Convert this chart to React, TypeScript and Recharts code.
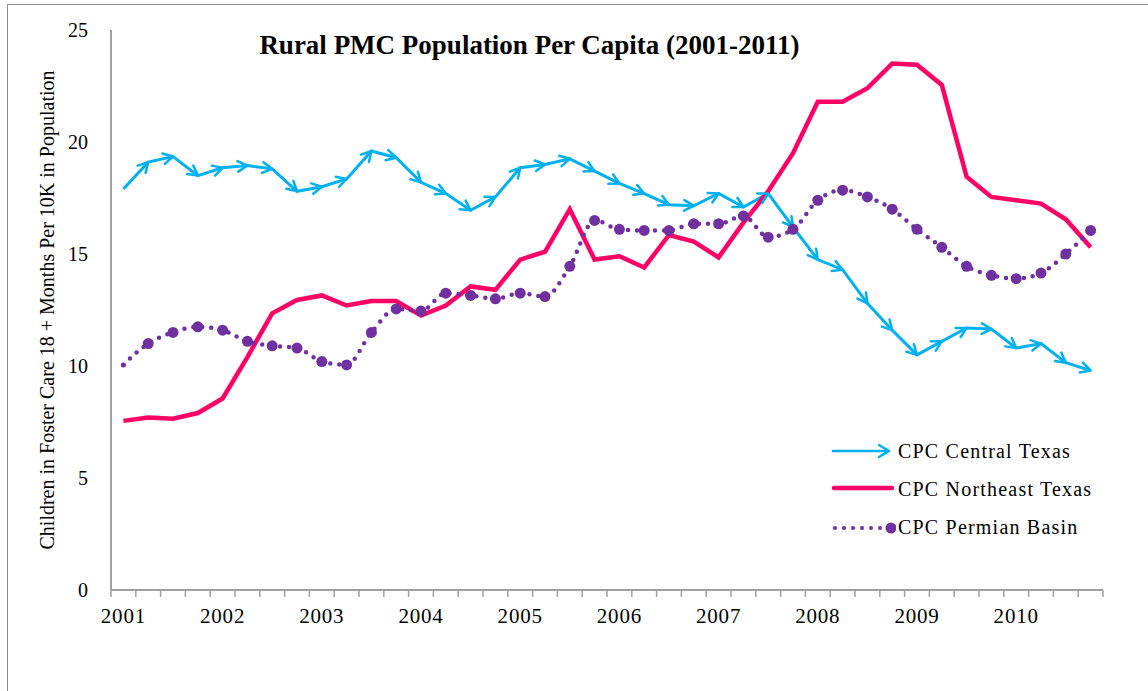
import React from "react";
import { LineChart, Line, XAxis, YAxis, Legend } from "recharts";

// quarterly values, 2001 Q1 .. 2010 Q4
const yearLabels = ["2001", "2002", "2003", "2004", "2005", "2006", "2007", "2008", "2009", "2010"];

const central = [
  17.9, 19.1, 19.35, 18.5, 18.85, 18.95, 18.8, 17.8, 18.0, 18.35,
  19.6, 19.3, 18.2, 17.7, 16.95, 17.55, 18.85, 19.0, 19.25, 18.7,
  18.15, 17.7, 17.2, 17.15, 17.7, 17.1, 17.7, 16.2, 14.75, 14.3,
  12.8, 11.6, 10.5, 11.1, 11.7, 11.65, 10.8, 11.0, 10.15, 9.8,
];

const northeast = [
  7.55, 7.7, 7.65, 7.9, 8.55, 10.4, 12.35, 12.95, 13.15, 12.7,
  12.9, 12.9, 12.25, 12.7, 13.55, 13.4, 14.75, 15.1, 17.0, 14.75,
  14.9, 14.4, 15.85, 15.55, 14.85, 16.4, 17.8, 19.5, 21.8, 21.8,
  22.4, 23.5, 23.45, 22.55, 18.45, 17.55, 17.4, 17.25, 16.55, 15.3,
];

const permian = [
  10.05, 11.0, 11.5, 11.75, 11.6, 11.1, 10.9, 10.8, 10.2, 10.05,
  11.5, 12.55, 12.45, 13.25, 13.15, 13.0, 13.25, 13.1, 14.45, 16.5,
  16.1, 16.05, 16.05, 16.35, 16.35, 16.7, 15.75, 16.1, 17.4, 17.85,
  17.55, 17.0, 16.1, 15.3, 14.45, 14.05, 13.9, 14.15, 15.0, 16.05,
];

const yTicks = [0, 5, 10, 15, 20, 25];

const CYAN = "#00B0F0";
const PINK = "#FF0066";
const PURPLE = "#7030A0";
const AXIS = "#A0A0A0";
const FONT = "'Liberation Serif', 'Times New Roman', serif";

const data = central.map((v, i) => ({
  x: i + 0.5,
  central: v,
  northeast: northeast[i],
  permian: permian[i],
}));

// ticks every half quarter: whole numbers get a tick mark, x.5 at each year start gets a label
const xTicks: number[] = [];
for (let i = 0; i <= 80; i++) xTicks.push(i / 2);

const XTick = (props: any) => {
  const { x, y, payload } = props;
  const v = payload.value;
  if (Number.isInteger(v)) {
    return <line x1={x} x2={x} y1={y} y2={y + 7} stroke={AXIS} strokeWidth={1.5} />;
  }
  const q = v - 0.5;
  if (q % 4 === 0) {
    return (
      <text
        x={x}
        y={y + 33}
        textAnchor="middle"
        fontSize={21}
        letterSpacing={0.8}
        fontFamily={FONT}
        fill="#000"
      >
        {yearLabels[q / 4]}
      </text>
    );
  }
  return <g />;
};

const ArrowDot = (props: any) => {
  const { cx, cy, index, points } = props;
  if (!index || !points || !points[index - 1]) return <g key={`a-${index}`} />;
  const p = points[index - 1];
  const a = Math.atan2(cy - p.y, cx - p.x);
  const L = 11;
  const t = 0.5;
  const x1 = cx - L * Math.cos(a - t);
  const y1 = cy - L * Math.sin(a - t);
  const x2 = cx - L * Math.cos(a + t);
  const y2 = cy - L * Math.sin(a + t);
  return (
    <polyline
      key={`a-${index}`}
      points={`${x1},${y1} ${cx},${cy} ${x2},${y2}`}
      fill="none"
      stroke={CYAN}
      strokeWidth={2.5}
      strokeLinecap="round"
      strokeLinejoin="round"
    />
  );
};

const PurpleDot = (props: any) => {
  const { cx, cy, index } = props;
  return <circle key={`p-${index}`} cx={cx} cy={cy} r={index === 0 ? 2.5 : 5.5} fill={PURPLE} />;
};

const YLabel = (props: any) => {
  const vb = props.viewBox;
  const cx = vb.x + 47;
  const cy = vb.y + vb.height / 2;
  return (
    <text
      x={cx}
      y={cy}
      transform={`rotate(-90 ${cx} ${cy})`}
      textAnchor="middle"
      dominantBaseline="central"
      fontSize={20}
      fontFamily={FONT}
      fill="#000"
    >
      Children in Foster Care 18 + Months Per 10K in Population
    </text>
  );
};

const legendItems = [
  { name: "CPC Central Texas", kind: "arrow" },
  { name: "CPC Northeast Texas", kind: "solid" },
  { name: "CPC Permian Basin", kind: "dots" },
];

const Swatch = ({ kind }: { kind: string }) => (
  <svg width={66} height={38}>
    {kind === "arrow" && (
      <g stroke={CYAN} strokeWidth={2.5} fill="none" strokeLinecap="round">
        <line x1={3} y1={19} x2={59} y2={19} />
        <polyline points="49,13 59,19 49,25" strokeLinejoin="round" />
      </g>
    )}
    {kind === "solid" && (
      <line x1={4} y1={18} x2={62} y2={18} stroke={PINK} strokeWidth={4.5} strokeLinecap="round" />
    )}
    {kind === "dots" && (
      <g fill={PURPLE}>
        {[5, 14, 23, 32, 41, 50].map((d) => (
          <circle key={d} cx={d} cy={20} r={2} />
        ))}
        <circle cx={61} cy={20} r={5.5} />
      </g>
    )}
  </svg>
);

const LegendBox = () => (
  <div style={{ fontFamily: FONT }}>
    {legendItems.map((it) => (
      <div key={it.name} style={{ display: "flex", alignItems: "center", height: 38 }}>
        <Swatch kind={it.kind} />
        <span style={{ fontSize: 20, letterSpacing: 1.2, marginLeft: 2, color: "#000" }}>{it.name}</span>
      </div>
    ))}
  </div>
);

export default function App() {
  return (
    <div
      style={{
        position: "absolute",
        left: 0,
        top: 0,
        width: 1148,
        height: 691,
        overflow: "hidden",
        background: "#fff",
        fontFamily: FONT,
      }}
    >
      {/* chart frame, only left and top edges are inside the picture */}
      <div
        style={{
          position: "absolute",
          left: 7,
          top: 4,
          width: 1200,
          height: 800,
          borderLeft: "1.5px solid #8c8c8c",
          borderTop: "1.5px solid #8c8c8c",
        }}
      />
      <div
        style={{
          position: "absolute",
          left: 0,
          top: 32,
          width: 1059,
          textAlign: "center",
          fontSize: 27,
          lineHeight: "26px",
          fontWeight: "bold",
          color: "#000",
          zIndex: 2,
        }}
      >
        Rural PMC Population Per Capita (2001-2011)
      </div>
      <LineChart
        width={1148}
        height={691}
        data={data}
        margin={{ top: 30, right: 45, bottom: 61, left: 0 }}
      >
        <XAxis
          dataKey="x"
          type="number"
          domain={[0, 40]}
          ticks={xTicks}
          interval={0}
          tick={<XTick />}
          tickLine={false}
          tickSize={0}
          tickMargin={0}
          height={40}
          axisLine={{ stroke: AXIS, strokeWidth: 2 }}
        />
        <YAxis
          domain={[0, 25]}
          ticks={yTicks}
          width={111}
          tickLine={false}
          tickSize={6}
          tickMargin={17}
          axisLine={{ stroke: AXIS, strokeWidth: 2 }}
          tick={{ fontSize: 20, fill: "#000", fontFamily: FONT }}
          label={<YLabel />}
        />
        <Legend
          content={<LegendBox />}
          layout="vertical"
          align="center"
          verticalAlign="middle"
          wrapperStyle={{ left: 830, top: 432, width: 300 }}
        />
        <Line
          dataKey="central"
          name="CPC Central Texas"
          type="linear"
          stroke={CYAN}
          strokeWidth={3}
          dot={ArrowDot}
          activeDot={false}
          isAnimationActive={false}
        />
        <Line
          dataKey="northeast"
          name="CPC Northeast Texas"
          type="linear"
          stroke={PINK}
          strokeWidth={4.5}
          dot={false}
          activeDot={false}
          isAnimationActive={false}
        />
        <Line
          dataKey="permian"
          name="CPC Permian Basin"
          type="monotone"
          stroke={PURPLE}
          strokeWidth={4.5}
          strokeDasharray="0 9"
          strokeLinecap="round"
          dot={PurpleDot}
          activeDot={false}
          isAnimationActive={false}
        />
      </LineChart>
    </div>
  );
}
